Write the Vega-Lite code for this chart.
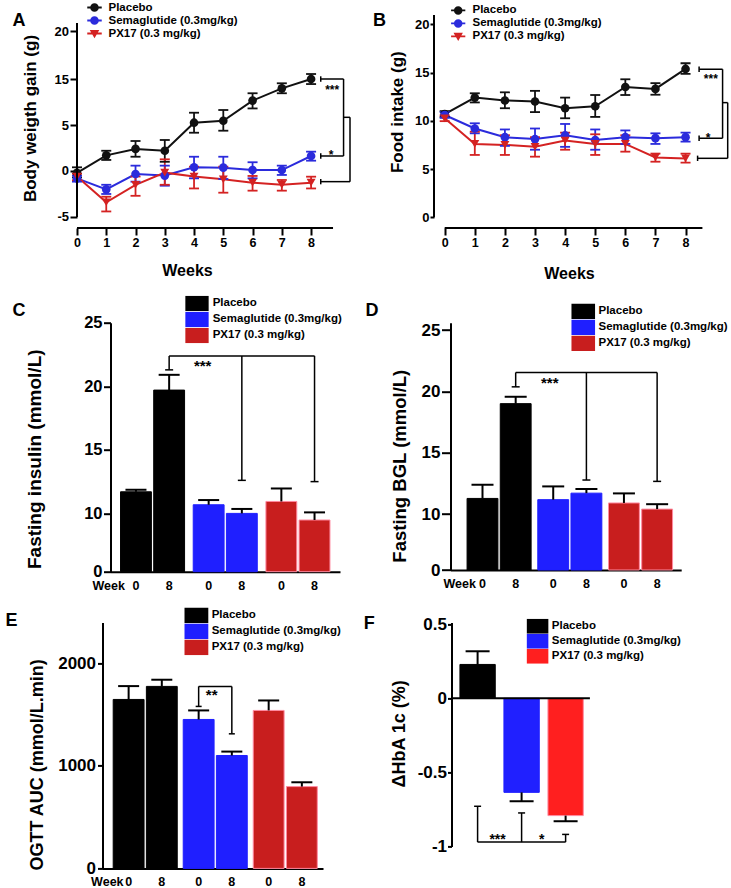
{
  "$schema": "https://vega.github.io/schema/vega-lite/v6.json",
  "background": "white",
  "padding": {"left": 5, "top": 0, "right": 0, "bottom": 0},
  "datasets": {
    "bw": [
      {"group": "Placebo", "week": 0, "mean": -0.2, "lo": -0.7, "hi": 0.4},
      {"group": "Placebo", "week": 1, "mean": 1.7, "lo": 1.2, "hi": 2.2},
      {"group": "Placebo", "week": 2, "mean": 2.4, "lo": 1.55, "hi": 3.26},
      {"group": "Placebo", "week": 3, "mean": 2.2, "lo": 1.0, "hi": 3.37},
      {"group": "Placebo", "week": 4, "mean": 5.5, "lo": 4.16, "hi": 7.67},
      {"group": "Placebo", "week": 5, "mean": 5.93, "lo": 4.38, "hi": 8.26},
      {"group": "Placebo", "week": 6, "mean": 10.3, "lo": 8.6, "hi": 11.9},
      {"group": "Placebo", "week": 7, "mean": 12.97, "lo": 11.9, "hi": 14.07},
      {"group": "Placebo", "week": 8, "mean": 15.0, "lo": 13.9, "hi": 15.52},
      {"group": "Semaglutide (0.3mg/kg)", "week": 0, "mean": -0.8, "lo": -1.16, "hi": -0.5},
      {"group": "Semaglutide (0.3mg/kg)", "week": 1, "mean": -2.0, "lo": -2.5, "hi": -1.5},
      {"group": "Semaglutide (0.3mg/kg)", "week": 2, "mean": -0.33, "lo": -1.16, "hi": 0.58},
      {"group": "Semaglutide (0.3mg/kg)", "week": 3, "mean": -0.5, "lo": -1.6, "hi": 0.58},
      {"group": "Semaglutide (0.3mg/kg)", "week": 4, "mean": 0.4, "lo": -0.8, "hi": 1.55},
      {"group": "Semaglutide (0.3mg/kg)", "week": 5, "mean": 0.36, "lo": -0.87, "hi": 1.55},
      {"group": "Semaglutide (0.3mg/kg)", "week": 6, "mean": 0.1, "lo": -0.8, "hi": 0.95},
      {"group": "Semaglutide (0.3mg/kg)", "week": 7, "mean": 0.1, "lo": -0.43, "hi": 0.58},
      {"group": "Semaglutide (0.3mg/kg)", "week": 8, "mean": 1.63, "lo": 1.12, "hi": 2.1},
      {"group": "PX17 (0.3 mg/kg)", "week": 0, "mean": -0.6, "lo": -1.0, "hi": -0.3},
      {"group": "PX17 (0.3 mg/kg)", "week": 1, "mean": -3.4, "lo": -4.4, "hi": -2.8},
      {"group": "PX17 (0.3 mg/kg)", "week": 2, "mean": -1.5, "lo": -2.7, "hi": -0.6},
      {"group": "PX17 (0.3 mg/kg)", "week": 3, "mean": -0.18, "lo": -1.5, "hi": 1.27},
      {"group": "PX17 (0.3 mg/kg)", "week": 4, "mean": -0.6, "lo": -1.9, "hi": 0.47},
      {"group": "PX17 (0.3 mg/kg)", "week": 5, "mean": -0.9, "lo": -2.36, "hi": 0.47},
      {"group": "PX17 (0.3 mg/kg)", "week": 6, "mean": -1.27, "lo": -2.14, "hi": -0.54},
      {"group": "PX17 (0.3 mg/kg)", "week": 7, "mean": -1.5, "lo": -2.14, "hi": -0.98},
      {"group": "PX17 (0.3 mg/kg)", "week": 8, "mean": -1.27, "lo": -1.9, "hi": -0.62}
    ],
    "food": [
      {"group": "Placebo", "week": 0, "mean": 10.7, "lo": 10.4, "hi": 11.0},
      {"group": "Placebo", "week": 1, "mean": 12.4, "lo": 11.9, "hi": 12.85},
      {"group": "Placebo", "week": 2, "mean": 12.1, "lo": 11.3, "hi": 12.95},
      {"group": "Placebo", "week": 3, "mean": 12.0, "lo": 10.9, "hi": 13.1},
      {"group": "Placebo", "week": 4, "mean": 11.3, "lo": 10.26, "hi": 12.4},
      {"group": "Placebo", "week": 5, "mean": 11.5, "lo": 10.4, "hi": 12.67},
      {"group": "Placebo", "week": 6, "mean": 13.5, "lo": 12.67, "hi": 14.3},
      {"group": "Placebo", "week": 7, "mean": 13.3, "lo": 12.7, "hi": 13.9},
      {"group": "Placebo", "week": 8, "mean": 15.37, "lo": 14.85, "hi": 15.96},
      {"group": "Semaglutide (0.3mg/kg)", "week": 0, "mean": 10.6, "lo": 10.3, "hi": 10.9},
      {"group": "Semaglutide (0.3mg/kg)", "week": 1, "mean": 9.2, "lo": 8.7, "hi": 9.74},
      {"group": "Semaglutide (0.3mg/kg)", "week": 2, "mean": 8.3, "lo": 7.4, "hi": 9.1},
      {"group": "Semaglutide (0.3mg/kg)", "week": 3, "mean": 8.1, "lo": 7.0, "hi": 9.2},
      {"group": "Semaglutide (0.3mg/kg)", "week": 4, "mean": 8.5, "lo": 7.3, "hi": 9.67},
      {"group": "Semaglutide (0.3mg/kg)", "week": 5, "mean": 8.0, "lo": 7.0, "hi": 9.1},
      {"group": "Semaglutide (0.3mg/kg)", "week": 6, "mean": 8.3, "lo": 7.6, "hi": 9.0},
      {"group": "Semaglutide (0.3mg/kg)", "week": 7, "mean": 8.2, "lo": 7.6, "hi": 8.7},
      {"group": "Semaglutide (0.3mg/kg)", "week": 8, "mean": 8.3, "lo": 7.83, "hi": 8.77},
      {"group": "PX17 (0.3 mg/kg)", "week": 0, "mean": 10.26, "lo": 9.96, "hi": 10.56},
      {"group": "PX17 (0.3 mg/kg)", "week": 1, "mean": 7.6, "lo": 6.46, "hi": 8.87},
      {"group": "PX17 (0.3 mg/kg)", "week": 2, "mean": 7.5, "lo": 6.46, "hi": 8.5},
      {"group": "PX17 (0.3 mg/kg)", "week": 3, "mean": 7.3, "lo": 6.28, "hi": 8.3},
      {"group": "PX17 (0.3 mg/kg)", "week": 4, "mean": 7.95, "lo": 7.0, "hi": 8.77},
      {"group": "PX17 (0.3 mg/kg)", "week": 5, "mean": 7.6, "lo": 6.46, "hi": 8.6},
      {"group": "PX17 (0.3 mg/kg)", "week": 6, "mean": 7.6, "lo": 6.8, "hi": 8.5},
      {"group": "PX17 (0.3 mg/kg)", "week": 7, "mean": 6.2, "lo": 5.76, "hi": 6.6},
      {"group": "PX17 (0.3 mg/kg)", "week": 8, "mean": 6.1, "lo": 5.66, "hi": 6.6}
    ],
    "insulin": [
      {"group": "Placebo", "week": "0", "value": 11.7, "err": 11.86},
      {"group": "Placebo", "week": "8", "value": 19.7, "err": 20.9},
      {"group": "Semaglutide (0.3mg/kg)", "week": "0", "value": 10.68, "err": 11.05},
      {"group": "Semaglutide (0.3mg/kg)", "week": "8", "value": 10.0, "err": 10.35},
      {"group": "PX17 (0.3 mg/kg)", "week": "0", "value": 10.94, "err": 11.96},
      {"group": "PX17 (0.3 mg/kg)", "week": "8", "value": 8.87, "err": 10.08}
    ],
    "bgl": [
      {"group": "Placebo", "week": "0", "value": 11.27, "err": 12.39},
      {"group": "Placebo", "week": "8", "value": 19.0, "err": 19.56},
      {"group": "Semaglutide (0.3mg/kg)", "week": "0", "value": 11.17, "err": 12.25},
      {"group": "Semaglutide (0.3mg/kg)", "week": "8", "value": 11.7, "err": 12.04},
      {"group": "PX17 (0.3 mg/kg)", "week": "0", "value": 10.9, "err": 11.68},
      {"group": "PX17 (0.3 mg/kg)", "week": "8", "value": 10.4, "err": 10.8}
    ],
    "ogtt": [
      {"group": "Placebo", "week": "0", "value": 1646, "err": 1776},
      {"group": "Placebo", "week": "8", "value": 1773, "err": 1838},
      {"group": "Semaglutide (0.3mg/kg)", "week": "0", "value": 1451, "err": 1539},
      {"group": "Semaglutide (0.3mg/kg)", "week": "8", "value": 1100, "err": 1138},
      {"group": "PX17 (0.3 mg/kg)", "week": "0", "value": 1539, "err": 1636},
      {"group": "PX17 (0.3 mg/kg)", "week": "8", "value": 797, "err": 839}
    ],
    "hba1c": [
      {"group": "Placebo", "value": 0.229, "err": 0.318},
      {"group": "Semaglutide (0.3mg/kg)", "value": -0.635, "err": -0.695},
      {"group": "PX17 (0.3 mg/kg)", "value": -0.792, "err": -0.83}
    ]
  },
  "spacing": 13.7,
  "resolve": {"scale": {"color": "independent", "fill": "independent", "stroke": "independent", "shape": "independent"}, "legend": {"color": "independent", "fill": "independent"}},
  "vconcat": [
    {
      "spacing": 21,
      "resolve": {"scale": {"color": "independent", "fill": "independent", "stroke": "independent", "shape": "independent"}, "legend": {"color": "independent", "fill": "independent"}},
      "hconcat": [
        {
          "width": 273, "height": 213,
          "data": {"name": "bw"},
          "layer": [
            {"mark": {"type": "line", "strokeWidth": 2},
             "encoding": {
               "x": {"field": "week", "type": "quantitative", "scale": {"domain": [0, 9.33], "nice": false, "zero": false},
                     "axis": {"values": [0, 1, 2, 3, 4, 5, 6, 7, 8], "domain": false, "tickSize": 7, "labelFontSize": 12.5, "labelPadding": 1, "title": "Weeks", "titleFontSize": 16, "titleX": 110, "titleY": 42, "titleAlign": "center", "titleBaseline": "middle", "titleAngle": 0}},
               "y": {"field": "mean", "type": "quantitative", "scale": {"domain": [-6.2, 5, 15, 21.67], "range": [213, 110, 64, 0], "nice": false, "zero": false},
                     "axis": {"values": [-5, 0, 5, 15, 20], "domain": false, "tickSize": 7, "labelFontSize": 13, "labelPadding": 1.5, "labelExpr": "datum.value + ''", "title": "Body weigth gain (g)", "titleFontSize": 17, "titleX": -46.5, "titleY": 103, "titleAngle": 270, "titleAlign": "center", "titleBaseline": "middle"}},
               "color": {"field": "group", "type": "nominal", "scale": {"domain": ["Placebo", "Semaglutide (0.3mg/kg)", "PX17 (0.3 mg/kg)"], "range": ["#111111", "#2b2bdc", "#d42222"]},
                         "legend": {"title": null, "orient": "none", "legendX": 10, "legendY": -15, "direction": "vertical", "symbolSize": 210, "rowPadding": 0, "labelOffset": 6.5, "labelFontSize": 11.5, "labelLimit": 400, "padding": 0,
                                    "encode": {"symbols": {"update": {
                                      "shape": {"signal": "datum.value === 'PX17 (0.3 mg/kg)' ? 'M-1,-0.13H1V0.13H-1Z M-0.66,-0.5H0.66L0,0.64Z' : 'M-1,-0.13H1V0.13H-1Z M0.6,0A0.6,0.6 0 1 1 -0.6,0A0.6,0.6 0 1 1 0.6,0Z'"},
                                      "fill": {"signal": "datum.value === 'Placebo' ? '#111111' : datum.value === 'PX17 (0.3 mg/kg)' ? '#d42222' : '#2b2bdc'"},
                                      "strokeWidth": {"value": 0},
                                      "size": {"value": 210}}}}}}
             }},
            {"mark": {"type": "rule", "strokeWidth": 1.8},
             "encoding": {"x": {"field": "week", "type": "quantitative", "axis": null}, "y": {"field": "lo", "type": "quantitative", "axis": null}, "y2": {"field": "hi"}, "color": {"field": "group", "type": "nominal", "legend": null}}},
            {"mark": {"type": "tick", "orient": "horizontal", "size": 10, "thickness": 1.8, "opacity": 1},
             "encoding": {"x": {"field": "week", "type": "quantitative", "axis": null}, "y": {"field": "lo", "type": "quantitative", "axis": null}, "color": {"field": "group", "type": "nominal", "legend": null}}},
            {"mark": {"type": "tick", "orient": "horizontal", "size": 10, "thickness": 1.8, "opacity": 1},
             "encoding": {"x": {"field": "week", "type": "quantitative", "axis": null}, "y": {"field": "hi", "type": "quantitative", "axis": null}, "color": {"field": "group", "type": "nominal", "legend": null}}},
            {"transform": [{"filter": "datum.group !== 'PX17 (0.3 mg/kg)'"}],
             "mark": {"type": "point", "filled": true, "shape": "circle", "size": 75, "opacity": 1},
             "encoding": {"x": {"field": "week", "type": "quantitative", "axis": null}, "y": {"field": "mean", "type": "quantitative", "axis": null}, "color": {"field": "group", "type": "nominal", "legend": null}}},
            {"transform": [{"filter": "datum.group === 'PX17 (0.3 mg/kg)'"}],
             "mark": {"type": "point", "filled": true, "shape": "triangle-down", "size": 80, "opacity": 1},
             "encoding": {"x": {"field": "week", "type": "quantitative", "axis": null}, "y": {"field": "mean", "type": "quantitative", "axis": null}, "color": {"field": "group", "type": "nominal", "legend": null}}},
            {"data": {"values": [
               {"x1": 8.33, "x2": 9.11, "y1": 15, "y2": 15},
               {"x1": 9.11, "x2": 9.11, "y1": 15, "y2": 1.63},
               {"x1": 8.33, "x2": 9.11, "y1": 1.63, "y2": 1.63},
               {"x1": 9.11, "x2": 9.33, "y1": 6.67, "y2": 6.67},
               {"x1": 9.33, "x2": 9.33, "y1": 6.67, "y2": -1.16},
               {"x1": 8.33, "x2": 9.33, "y1": -1.16, "y2": -1.16},
               {"x1": 8.33, "x2": 8.33, "y1": 15.28, "y2": 14.4},
               {"x1": 8.33, "x2": 8.33, "y1": 1.93, "y2": 1.33},
               {"x1": 8.33, "x2": 8.33, "y1": -0.87, "y2": -1.45}
             ]},
             "mark": {"type": "rule", "strokeWidth": 1.5, "color": "#000000"},
             "encoding": {"x": {"field": "x1", "type": "quantitative", "axis": null}, "x2": {"field": "x2"}, "y": {"field": "y1", "type": "quantitative", "axis": null}, "y2": {"field": "y2"}}},
            {"data": {"values": [{"label": "***", "x": 8.72, "y": 11.8}, {"label": "*", "x": 8.68, "y": 1.26}]},
             "mark": {"type": "text", "fontSize": 12, "baseline": "alphabetic", "align": "center"},
             "encoding": {"x": {"field": "x", "type": "quantitative", "axis": null}, "y": {"field": "y", "type": "quantitative", "axis": null}, "text": {"field": "label"}}},
            {"data": {"values": [{}]},
             "mark": {"type": "rule", "strokeWidth": 2, "color": "#000000"},
             "encoding": {"x": {"datum": 0, "type": "quantitative", "axis": null},
                          "y": {"datum": -5, "type": "quantitative", "axis": {"orient": "right", "title": "A", "domain": false, "ticks": false, "labels": false, "grid": false, "titleX": -338, "titleY": 10, "titleAngle": 0, "titleAlign": "left", "titleBaseline": "alphabetic", "titleFontSize": 18, "minExtent": 0}},
                          "y2": {"datum": 20.83}}},
            {"data": {"values": [{}]},
             "mark": {"type": "rule", "strokeWidth": 2, "color": "#000000"},
             "encoding": {"x": {"datum": 0, "type": "quantitative", "axis": null}, "x2": {"datum": 8.75}, "y": {"datum": -6.2, "type": "quantitative", "axis": null}}}
          ],
          "resolve": {"axis": {"x": "independent", "y": "independent"}}
        },
        {
          "width": 293.7, "height": 213,
          "data": {"name": "food"},
          "layer": [
            {"mark": {"type": "line", "strokeWidth": 2},
             "encoding": {
               "x": {"field": "week", "type": "quantitative", "scale": {"domain": [-0.355, 9.4], "nice": false, "zero": false},
                     "axis": {"values": [0, 1, 2, 3, 4, 5, 6, 7, 8], "domain": false, "tickSize": 7, "labelFontSize": 12.5, "labelPadding": 1, "title": "Weeks", "titleFontSize": 16, "titleX": 135, "titleY": 45.3, "titleAlign": "center", "titleBaseline": "middle", "titleAngle": 0}},
               "y": {"field": "mean", "type": "quantitative", "scale": {"domain": [-1.11, 20.96], "nice": false, "zero": false},
                     "axis": {"values": [0, 5, 10, 15, 20], "domain": false, "tickSize": 4, "labelFontSize": 13, "labelPadding": 1, "title": "Food intake (g)", "titleFontSize": 17, "titleX": -36.3, "titleY": 96.7, "titleAngle": 270, "titleAlign": "center", "titleBaseline": "middle"}},
               "color": {"field": "group", "type": "nominal", "scale": {"domain": ["Placebo", "Semaglutide (0.3mg/kg)", "PX17 (0.3 mg/kg)"], "range": ["#111111", "#2b2bdc", "#d42222"]},
                         "legend": {"title": null, "orient": "none", "legendX": 16.7, "legendY": -12.1, "direction": "vertical", "symbolSize": 202, "rowPadding": 0, "labelOffset": 6.8, "labelFontSize": 11.5, "labelLimit": 400, "padding": 0,
                                    "encode": {"symbols": {"update": {
                                      "shape": {"signal": "datum.value === 'PX17 (0.3 mg/kg)' ? 'M-1,-0.13H1V0.13H-1Z M-0.66,-0.5H0.66L0,0.64Z' : 'M-1,-0.13H1V0.13H-1Z M0.6,0A0.6,0.6 0 1 1 -0.6,0A0.6,0.6 0 1 1 0.6,0Z'"},
                                      "fill": {"signal": "datum.value === 'Placebo' ? '#111111' : datum.value === 'PX17 (0.3 mg/kg)' ? '#d42222' : '#2b2bdc'"},
                                      "strokeWidth": {"value": 0},
                                      "size": {"value": 202}}}}}}
             }},
            {"mark": {"type": "rule", "strokeWidth": 1.8},
             "encoding": {"x": {"field": "week", "type": "quantitative", "axis": null}, "y": {"field": "lo", "type": "quantitative", "axis": null}, "y2": {"field": "hi"}, "color": {"field": "group", "type": "nominal", "legend": null}}},
            {"mark": {"type": "tick", "orient": "horizontal", "size": 10, "thickness": 1.8, "opacity": 1},
             "encoding": {"x": {"field": "week", "type": "quantitative", "axis": null}, "y": {"field": "lo", "type": "quantitative", "axis": null}, "color": {"field": "group", "type": "nominal", "legend": null}}},
            {"mark": {"type": "tick", "orient": "horizontal", "size": 10, "thickness": 1.8, "opacity": 1},
             "encoding": {"x": {"field": "week", "type": "quantitative", "axis": null}, "y": {"field": "hi", "type": "quantitative", "axis": null}, "color": {"field": "group", "type": "nominal", "legend": null}}},
            {"transform": [{"filter": "datum.group !== 'PX17 (0.3 mg/kg)'"}],
             "mark": {"type": "point", "filled": true, "shape": "circle", "size": 75, "opacity": 1},
             "encoding": {"x": {"field": "week", "type": "quantitative", "axis": null}, "y": {"field": "mean", "type": "quantitative", "axis": null}, "color": {"field": "group", "type": "nominal", "legend": null}}},
            {"transform": [{"filter": "datum.group === 'PX17 (0.3 mg/kg)'"}],
             "mark": {"type": "point", "filled": true, "shape": "triangle-down", "size": 80, "opacity": 1},
             "encoding": {"x": {"field": "week", "type": "quantitative", "axis": null}, "y": {"field": "mean", "type": "quantitative", "axis": null}, "color": {"field": "group", "type": "nominal", "legend": null}}},
            {"data": {"values": [
               {"x1": 8.45, "x2": 9.23, "y1": 15.34, "y2": 15.34},
               {"x1": 9.23, "x2": 9.23, "y1": 15.34, "y2": 8.19},
               {"x1": 8.45, "x2": 9.23, "y1": 8.19, "y2": 8.19},
               {"x1": 9.23, "x2": 9.4, "y1": 11.88, "y2": 11.88},
               {"x1": 9.4, "x2": 9.4, "y1": 11.88, "y2": 6.11},
               {"x1": 8.4, "x2": 9.4, "y1": 6.11, "y2": 6.11},
               {"x1": 8.45, "x2": 8.45, "y1": 15.62, "y2": 15.06},
               {"x1": 8.45, "x2": 8.45, "y1": 8.47, "y2": 7.91},
               {"x1": 8.4, "x2": 8.4, "y1": 6.39, "y2": 5.83}
             ]},
             "mark": {"type": "rule", "strokeWidth": 1.5, "color": "#000000"},
             "encoding": {"x": {"field": "x1", "type": "quantitative", "axis": null}, "x2": {"field": "x2"}, "y": {"field": "y1", "type": "quantitative", "axis": null}, "y2": {"field": "y2"}}},
            {"data": {"values": [{"label": "***", "x": 8.84, "y": 13.95}, {"label": "*", "x": 8.75, "y": 7.83}]},
             "mark": {"type": "text", "fontSize": 12, "baseline": "alphabetic", "align": "center"},
             "encoding": {"x": {"field": "x", "type": "quantitative", "axis": null}, "y": {"field": "y", "type": "quantitative", "axis": null}, "text": {"field": "label"}}},
            {"data": {"values": [{}]},
             "mark": {"type": "rule", "strokeWidth": 2, "color": "#000000"},
             "encoding": {"x": {"datum": -0.355, "type": "quantitative", "axis": null},
                          "y": {"datum": 0, "type": "quantitative", "axis": {"orient": "right", "title": "B", "domain": false, "ticks": false, "labels": false, "grid": false, "titleX": -355.3, "titleY": 10, "titleAngle": 0, "titleAlign": "left", "titleBaseline": "alphabetic", "titleFontSize": 18, "minExtent": 0}},
                          "y2": {"datum": 20.96}}},
            {"data": {"values": [{}]},
             "mark": {"type": "rule", "strokeWidth": 2, "color": "#000000"},
             "encoding": {"x": {"datum": 0, "type": "quantitative", "axis": null}, "x2": {"datum": 8.56}, "y": {"datum": -1.11, "type": "quantitative", "axis": null}}}
          ],
          "resolve": {"axis": {"x": "independent", "y": "independent"}}
        }
      ]
    },
    {
      "spacing": 22.5,
      "resolve": {"scale": {"color": "independent", "fill": "independent", "stroke": "independent", "shape": "independent"}, "legend": {"color": "independent", "fill": "independent"}},
      "hconcat": [
        {
          "width": 229.5, "height": 249,
          "data": {"name": "insulin"},
          "layer": [
            {"mark": {"type": "bar", "strokeWidth": 1},
             "encoding": {
               "x": {"field": "group", "type": "nominal", "scale": {"domain": ["Placebo", "Semaglutide (0.3mg/kg)", "PX17 (0.3 mg/kg)"], "range": [33.5, 263], "paddingInner": 0.119, "paddingOuter": 0.138},
                     "axis": {"labels": false, "ticks": false, "domain": true, "title": null}},
               "xOffset": {"field": "week", "type": "nominal", "scale": {"domain": ["0", "8"], "paddingInner": 0.07, "paddingOuter": 0}},
               "y": {"field": "value", "type": "quantitative", "scale": {"domain": [0, 10, 25], "range": [249, 190.7, 0], "nice": false, "zero": false},
                     "axis": {"values": [0, 10, 15, 20, 25], "offset": -33.5, "domain": true, "tickSize": 7, "labelFontSize": 16.5, "labelPadding": 1.5, "title": "Fasting insulin (mmol/L)", "titleFontSize": 19, "titleX": -76.5, "titleY": 136, "titleAngle": 270, "titleAlign": "center", "titleBaseline": "middle"}},
               "fill": {"field": "group", "type": "nominal", "scale": {"domain": ["Placebo", "Semaglutide (0.3mg/kg)", "PX17 (0.3 mg/kg)"], "range": ["#000000", "#1f1fff", "#c81e1e"]},
                        "legend": {"title": null, "orient": "none", "legendX": 108, "legendY": -27, "direction": "vertical", "symbolType": "M-1,-0.665H1V0.665H-1Z", "symbolSize": 543, "clipHeight": 15.55, "rowPadding": 0, "labelOffset": 3.7, "labelFontSize": 11.5, "labelLimit": 400, "padding": 0,
                                   "encode": {"symbols": {"update": {"fill": {"signal": "datum.value === 'Placebo' ? '#000000' : datum.value === 'PX17 (0.3 mg/kg)' ? '#ff2222' : '#2424ff'"}, "strokeWidth": {"value": 0}}}}}},
               "stroke": {"field": "group", "type": "nominal", "scale": {"domain": ["Placebo", "Semaglutide (0.3mg/kg)", "PX17 (0.3 mg/kg)"], "range": ["#000000", "#1f1fff", "#ff8aa0"]}, "legend": null}
             }},
            {"mark": {"type": "rule", "strokeWidth": 2, "color": "#000000"},
             "encoding": {"x": {"field": "group", "type": "nominal", "axis": null}, "xOffset": {"field": "week", "type": "nominal"}, "y": {"field": "value", "type": "quantitative", "axis": null}, "y2": {"field": "err"}}},
            {"mark": {"type": "tick", "orient": "horizontal", "size": 21, "thickness": 2, "color": "#000000", "opacity": 1},
             "encoding": {"x": {"field": "group", "type": "nominal", "axis": null}, "xOffset": {"field": "week", "type": "nominal"},
                          "y": {"field": "err", "type": "quantitative", "axis": {"orient": "right", "title": "C", "domain": false, "ticks": false, "labels": false, "grid": false, "titleX": -294.5, "titleY": -7, "titleAngle": 0, "titleAlign": "left", "titleBaseline": "alphabetic", "titleFontSize": 18, "minExtent": 0}}}},
            {"data": {"values": [
               {"group": "Placebo", "week": "8", "y1": 21.29, "y2": 22.39},
               {"group": "Semaglutide (0.3mg/kg)", "week": "8", "y1": 12.6, "y2": 22.39},
               {"group": "PX17 (0.3 mg/kg)", "week": "8", "y1": 12.5, "y2": 22.39}
             ]},
             "layer": [
               {"mark": {"type": "rule", "strokeWidth": 1.5, "color": "#000000"},
                "encoding": {"x": {"field": "group", "type": "nominal", "axis": null}, "xOffset": {"field": "week", "type": "nominal"}, "y": {"field": "y1", "type": "quantitative", "axis": null}, "y2": {"field": "y2"}}},
               {"mark": {"type": "tick", "orient": "horizontal", "size": 8, "thickness": 1.5, "color": "#000000", "opacity": 1},
                "encoding": {"x": {"field": "group", "type": "nominal", "axis": null}, "xOffset": {"field": "week", "type": "nominal"}, "y": {"field": "y1", "type": "quantitative", "axis": null}}}
             ]},
            {"data": {"values": [
               {"group": "Placebo", "week": "8", "y": 22.39},
               {"group": "PX17 (0.3 mg/kg)", "week": "8", "y": 22.39}
             ]},
             "mark": {"type": "line", "strokeWidth": 1.5, "color": "#000000"},
             "encoding": {"x": {"field": "group", "type": "nominal", "axis": null}, "xOffset": {"field": "week", "type": "nominal"}, "y": {"field": "y", "type": "quantitative", "axis": null}}},
            {"data": {"values": [{"group": "Semaglutide (0.3mg/kg)", "week": "0", "y": 21.18, "label": "***"}]},
             "mark": {"type": "text", "fontSize": 15, "baseline": "alphabetic", "align": "center", "dx": -6},
             "encoding": {"x": {"field": "group", "type": "nominal", "axis": null}, "xOffset": {"field": "week", "type": "nominal"}, "y": {"field": "y", "type": "quantitative", "axis": null}, "text": {"field": "label"}}},
            {"mark": {"type": "text", "fontSize": 12.5, "baseline": "middle", "align": "center"},
             "encoding": {"x": {"field": "group", "type": "nominal", "axis": null}, "xOffset": {"field": "week", "type": "nominal"}, "y": {"datum": -2.5, "type": "quantitative", "axis": null}, "text": {"field": "week"}}},
            {"data": {"values": [{"group": "Placebo", "week": "0", "y": -2.5, "label": "Week"}]},
             "mark": {"type": "text", "fontSize": 12.5, "baseline": "middle", "align": "center", "dx": -27.2},
             "encoding": {"x": {"field": "group", "type": "nominal", "axis": null}, "xOffset": {"field": "week", "type": "nominal"}, "y": {"field": "y", "type": "quantitative", "axis": null}, "text": {"field": "label"}}}
          ],
          "resolve": {"axis": {"x": "independent", "y": "independent"}}
        },
        {
          "width": 230.7, "height": 247.3,
          "data": {"name": "bgl"},
          "layer": [
            {"mark": {"type": "bar", "strokeWidth": 1},
             "encoding": {
               "x": {"field": "group", "type": "nominal", "scale": {"domain": ["Placebo", "Semaglutide (0.3mg/kg)", "PX17 (0.3 mg/kg)"], "paddingInner": 0.122, "paddingOuter": 0.192, "align": 0.61},
                     "axis": {"labels": false, "ticks": false, "domain": true, "title": null}},
               "xOffset": {"field": "week", "type": "nominal", "scale": {"domain": ["0", "8"], "paddingInner": 0.04, "paddingOuter": 0}},
               "y": {"field": "value", "type": "quantitative", "scale": {"domain": [0, 10, 25.6], "range": [247.3, 191.3, 0], "nice": false, "zero": false},
                     "axis": {"values": [0, 10, 15, 20, 25], "domain": true, "tickSize": 9, "labelFontSize": 17, "labelPadding": 1.5, "title": "Fasting BGL (mmol/L)", "titleFontSize": 18.5, "titleX": -51.3, "titleY": 143, "titleAngle": 270, "titleAlign": "center", "titleBaseline": "middle"}},
               "fill": {"field": "group", "type": "nominal", "scale": {"domain": ["Placebo", "Semaglutide (0.3mg/kg)", "PX17 (0.3 mg/kg)"], "range": ["#000000", "#1f1fff", "#c81e1e"]},
                        "legend": {"title": null, "orient": "none", "legendX": 120.7, "legendY": -19.3, "direction": "vertical", "symbolType": "M-1,-0.654H1V0.654H-1Z", "symbolSize": 562, "clipHeight": 15.55, "rowPadding": 0, "labelOffset": 3.3, "labelFontSize": 11.5, "labelLimit": 400, "padding": 0,
                                   "encode": {"symbols": {"update": {"fill": {"signal": "datum.value === 'Placebo' ? '#000000' : datum.value === 'PX17 (0.3 mg/kg)' ? '#ff2222' : '#2424ff'"}, "strokeWidth": {"value": 0}}}}}},
               "stroke": {"field": "group", "type": "nominal", "scale": {"domain": ["Placebo", "Semaglutide (0.3mg/kg)", "PX17 (0.3 mg/kg)"], "range": ["#000000", "#1f1fff", "#ff8aa0"]}, "legend": null}
             }},
            {"mark": {"type": "rule", "strokeWidth": 2, "color": "#000000"},
             "encoding": {"x": {"field": "group", "type": "nominal", "axis": null}, "xOffset": {"field": "week", "type": "nominal"}, "y": {"field": "value", "type": "quantitative", "axis": null}, "y2": {"field": "err"}}},
            {"mark": {"type": "tick", "orient": "horizontal", "size": 22, "thickness": 2, "color": "#000000", "opacity": 1},
             "encoding": {"x": {"field": "group", "type": "nominal", "axis": null}, "xOffset": {"field": "week", "type": "nominal"},
                          "y": {"field": "err", "type": "quantitative", "axis": {"orient": "right", "title": "D", "domain": false, "ticks": false, "labels": false, "grid": false, "titleX": -316.3, "titleY": -7, "titleAngle": 0, "titleAlign": "left", "titleBaseline": "alphabetic", "titleFontSize": 18, "minExtent": 0}}}},
            {"data": {"values": [
               {"group": "Placebo", "week": "8", "y1": 20.37, "y2": 21.54},
               {"group": "Semaglutide (0.3mg/kg)", "week": "8", "y1": 12.77, "y2": 21.54},
               {"group": "PX17 (0.3 mg/kg)", "week": "8", "y1": 12.66, "y2": 21.54}
             ]},
             "layer": [
               {"mark": {"type": "rule", "strokeWidth": 1.5, "color": "#000000"},
                "encoding": {"x": {"field": "group", "type": "nominal", "axis": null}, "xOffset": {"field": "week", "type": "nominal"}, "y": {"field": "y1", "type": "quantitative", "axis": null}, "y2": {"field": "y2"}}},
               {"mark": {"type": "tick", "orient": "horizontal", "size": 8, "thickness": 1.5, "color": "#000000", "opacity": 1},
                "encoding": {"x": {"field": "group", "type": "nominal", "axis": null}, "xOffset": {"field": "week", "type": "nominal"}, "y": {"field": "y1", "type": "quantitative", "axis": null}}}
             ]},
            {"data": {"values": [
               {"group": "Placebo", "week": "8", "y": 21.54},
               {"group": "PX17 (0.3 mg/kg)", "week": "8", "y": 21.54}
             ]},
             "mark": {"type": "line", "strokeWidth": 1.5, "color": "#000000"},
             "encoding": {"x": {"field": "group", "type": "nominal", "axis": null}, "xOffset": {"field": "week", "type": "nominal"}, "y": {"field": "y", "type": "quantitative", "axis": null}}},
            {"data": {"values": [{"group": "Semaglutide (0.3mg/kg)", "week": "0", "y": 20.24, "label": "***"}]},
             "mark": {"type": "text", "fontSize": 15, "baseline": "alphabetic", "align": "center", "dx": -3.5},
             "encoding": {"x": {"field": "group", "type": "nominal", "axis": null}, "xOffset": {"field": "week", "type": "nominal"}, "y": {"field": "y", "type": "quantitative", "axis": null}, "text": {"field": "label"}}},
            {"mark": {"type": "text", "fontSize": 12.5, "baseline": "middle", "align": "center"},
             "encoding": {"x": {"field": "group", "type": "nominal", "axis": null}, "xOffset": {"field": "week", "type": "nominal"}, "y": {"datum": -2.5, "type": "quantitative", "axis": null}, "text": {"field": "week"}}},
            {"data": {"values": [{"group": "Placebo", "week": "0", "y": -2.5, "label": "Week"}]},
             "mark": {"type": "text", "fontSize": 12.5, "baseline": "middle", "align": "center", "dx": -22.8},
             "encoding": {"x": {"field": "group", "type": "nominal", "axis": null}, "xOffset": {"field": "week", "type": "nominal"}, "y": {"field": "y", "type": "quantitative", "axis": null}, "text": {"field": "label"}}}
          ],
          "resolve": {"axis": {"x": "independent", "y": "independent"}}
        }
      ]
    },
    {
      "spacing": 20.5,
      "resolve": {"scale": {"color": "independent", "fill": "independent", "stroke": "independent", "shape": "independent"}, "legend": {"color": "independent", "fill": "independent"}},
      "hconcat": [
        {
          "width": 220.5, "height": 246,
          "data": {"name": "ogtt"},
          "layer": [
            {"mark": {"type": "bar", "strokeWidth": 1},
             "encoding": {
               "x": {"field": "group", "type": "nominal", "scale": {"domain": ["Placebo", "Semaglutide (0.3mg/kg)", "PX17 (0.3 mg/kg)"], "range": [25.5, 246], "paddingInner": 0.119, "paddingOuter": 0.134, "align": 0.57},
                     "axis": {"labels": false, "ticks": false, "domain": true, "title": null}},
               "xOffset": {"field": "week", "type": "nominal", "scale": {"domain": ["0", "8"], "paddingInner": 0.05, "paddingOuter": 0}},
               "y": {"field": "value", "type": "quantitative", "scale": {"domain": [0, 2396.5], "nice": false, "zero": false},
                     "axis": {"values": [0, 1000, 2000], "offset": -25.5, "domain": true, "tickSize": 5, "labelFontSize": 17, "labelPadding": 2, "labelExpr": "datum.value + ''", "title": "OGTT AUC (mmol/L.min)", "titleFontSize": 18, "titleX": -65.5, "titleY": 142, "titleAngle": 270, "titleAlign": "center", "titleBaseline": "middle"}},
               "fill": {"field": "group", "type": "nominal", "scale": {"domain": ["Placebo", "Semaglutide (0.3mg/kg)", "PX17 (0.3 mg/kg)"], "range": ["#000000", "#1f1fff", "#c81e1e"]},
                        "legend": {"title": null, "orient": "none", "legendX": 107.3, "legendY": -15, "direction": "vertical", "symbolType": "M-1,-0.6625H1V0.6625H-1Z", "symbolSize": 576, "clipHeight": 15.9, "rowPadding": 0, "labelOffset": 3.4, "labelFontSize": 11.5, "labelLimit": 400, "padding": 0,
                                   "encode": {"symbols": {"update": {"fill": {"signal": "datum.value === 'Placebo' ? '#000000' : datum.value === 'PX17 (0.3 mg/kg)' ? '#ff2222' : '#2424ff'"}, "strokeWidth": {"value": 0}}}}}},
               "stroke": {"field": "group", "type": "nominal", "scale": {"domain": ["Placebo", "Semaglutide (0.3mg/kg)", "PX17 (0.3 mg/kg)"], "range": ["#000000", "#1f1fff", "#ff8aa0"]}, "legend": null}
             }},
            {"mark": {"type": "rule", "strokeWidth": 2, "color": "#000000"},
             "encoding": {"x": {"field": "group", "type": "nominal", "axis": null}, "xOffset": {"field": "week", "type": "nominal"}, "y": {"field": "value", "type": "quantitative", "axis": null}, "y2": {"field": "err"}}},
            {"mark": {"type": "tick", "orient": "horizontal", "size": 21, "thickness": 2, "color": "#000000", "opacity": 1},
             "encoding": {"x": {"field": "group", "type": "nominal", "axis": null}, "xOffset": {"field": "week", "type": "nominal"},
                          "y": {"field": "err", "type": "quantitative", "axis": {"orient": "right", "title": "E", "domain": false, "ticks": false, "labels": false, "grid": false, "titleX": -292.5, "titleY": 3, "titleAngle": 0, "titleAlign": "left", "titleBaseline": "alphabetic", "titleFontSize": 18, "minExtent": 0}}}},
            {"data": {"values": [
               {"group": "Semaglutide (0.3mg/kg)", "week": "0", "y1": 1578, "y2": 1773},
               {"group": "Semaglutide (0.3mg/kg)", "week": "8", "y1": 1311, "y2": 1773}
             ]},
             "layer": [
               {"mark": {"type": "rule", "strokeWidth": 1.5, "color": "#000000"},
                "encoding": {"x": {"field": "group", "type": "nominal", "axis": null}, "xOffset": {"field": "week", "type": "nominal"}, "y": {"field": "y1", "type": "quantitative", "axis": null}, "y2": {"field": "y2"}}},
               {"mark": {"type": "tick", "orient": "horizontal", "size": 6, "thickness": 1.5, "color": "#000000", "opacity": 1},
                "encoding": {"x": {"field": "group", "type": "nominal", "axis": null}, "xOffset": {"field": "week", "type": "nominal"}, "y": {"field": "y1", "type": "quantitative", "axis": null}}}
             ]},
            {"data": {"values": [
               {"group": "Semaglutide (0.3mg/kg)", "week": "0", "y": 1773},
               {"group": "Semaglutide (0.3mg/kg)", "week": "8", "y": 1773}
             ]},
             "mark": {"type": "line", "strokeWidth": 1.5, "color": "#000000"},
             "encoding": {"x": {"field": "group", "type": "nominal", "axis": null}, "xOffset": {"field": "week", "type": "nominal"}, "y": {"field": "y", "type": "quantitative", "axis": null}}},
            {"data": {"values": [{"group": "Semaglutide (0.3mg/kg)", "week": "0", "y": 1636, "label": "**"}]},
             "mark": {"type": "text", "fontSize": 15, "baseline": "alphabetic", "align": "center", "dx": 13},
             "encoding": {"x": {"field": "group", "type": "nominal", "axis": null}, "xOffset": {"field": "week", "type": "nominal"}, "y": {"field": "y", "type": "quantitative", "axis": null}, "text": {"field": "label"}}},
            {"mark": {"type": "text", "fontSize": 12.5, "baseline": "middle", "align": "center"},
             "encoding": {"x": {"field": "group", "type": "nominal", "axis": null}, "xOffset": {"field": "week", "type": "nominal"}, "y": {"datum": -133, "type": "quantitative", "axis": null}, "text": {"field": "week"}}},
            {"data": {"values": [{"group": "Placebo", "week": "0", "y": -133, "label": "Week"}]},
             "mark": {"type": "text", "fontSize": 12.5, "baseline": "middle", "align": "center", "dx": -21.3},
             "encoding": {"x": {"field": "group", "type": "nominal", "axis": null}, "xOffset": {"field": "week", "type": "nominal"}, "y": {"field": "y", "type": "quantitative", "axis": null}, "text": {"field": "label"}}}
          ],
          "resolve": {"axis": {"x": "independent", "y": "independent"}}
        },
        {
          "width": 138.4, "height": 224,
          "data": {"name": "hba1c"},
          "layer": [
            {"mark": {"type": "bar", "strokeWidth": 1},
             "encoding": {
               "x": {"field": "group", "type": "nominal", "scale": {"domain": ["Placebo", "Semaglutide (0.3mg/kg)", "PX17 (0.3 mg/kg)"], "paddingInner": 0.197, "paddingOuter": 0.171, "align": 0.56}, "axis": null},
               "y": {"field": "value", "type": "quantitative", "scale": {"domain": [-1, 0.513], "nice": false, "zero": false},
                     "axis": {"values": [-1, -0.5, 0, 0.5], "domain": true, "tickSize": 4, "labelFontSize": 17, "labelPadding": 1, "labelExpr": "datum.value + ''", "title": "ΔHbA 1c (%)", "titleFontSize": 18, "titleX": -51.6, "titleY": 111, "titleAngle": 270, "titleAlign": "center", "titleBaseline": "middle"}},
               "fill": {"field": "group", "type": "nominal", "scale": {"domain": ["Placebo", "Semaglutide (0.3mg/kg)", "PX17 (0.3 mg/kg)"], "range": ["#000000", "#2020ff", "#ff1f1f"]},
                        "legend": {"title": null, "orient": "none", "legendX": 75, "legendY": -3.7, "direction": "vertical", "symbolType": "M-1,-0.69H1V0.69H-1Z", "symbolSize": 471, "clipHeight": 15, "rowPadding": 0, "labelOffset": 3.3, "labelFontSize": 11.5, "labelLimit": 400, "padding": 0,
                                   "encode": {"symbols": {"update": {"fill": {"signal": "datum.value === 'Placebo' ? '#000000' : datum.value === 'PX17 (0.3 mg/kg)' ? '#ff2222' : '#2424ff'"}, "strokeWidth": {"value": 0}}}}}},
               "stroke": {"field": "group", "type": "nominal", "scale": {"domain": ["Placebo", "Semaglutide (0.3mg/kg)", "PX17 (0.3 mg/kg)"], "range": ["#000000", "#2020ff", "#ff8aa0"]}, "legend": null}
             }},
            {"data": {"values": [{}]},
             "mark": {"type": "rule", "strokeWidth": 2, "color": "#000000"},
             "encoding": {"y": {"datum": 0, "type": "quantitative", "axis": null}}},
            {"mark": {"type": "rule", "strokeWidth": 2, "color": "#000000"},
             "encoding": {"x": {"field": "group", "type": "nominal", "axis": null}, "y": {"field": "value", "type": "quantitative", "axis": null}, "y2": {"field": "err"}}},
            {"mark": {"type": "tick", "orient": "horizontal", "size": 24, "thickness": 2, "color": "#000000", "opacity": 1},
             "encoding": {"x": {"field": "group", "type": "nominal", "axis": null},
                          "y": {"field": "err", "type": "quantitative", "axis": {"orient": "right", "title": "F", "domain": false, "ticks": false, "labels": false, "grid": false, "titleX": -226.7, "titleY": 6.3, "titleAngle": 0, "titleAlign": "left", "titleBaseline": "alphabetic", "titleFontSize": 18, "minExtent": 0}}}},
            {"data": {"values": [
               {"group": "Placebo", "y1": -0.729, "y2": -0.971},
               {"group": "Semaglutide (0.3mg/kg)", "y1": -0.774, "y2": -0.971},
               {"group": "PX17 (0.3 mg/kg)", "y1": -0.919, "y2": -0.971}
             ]},
             "layer": [
               {"mark": {"type": "rule", "strokeWidth": 1.5, "color": "#000000"},
                "encoding": {"x": {"field": "group", "type": "nominal", "axis": null}, "y": {"field": "y1", "type": "quantitative", "axis": null}, "y2": {"field": "y2"}}},
               {"mark": {"type": "tick", "orient": "horizontal", "size": 7, "thickness": 1.5, "color": "#000000", "opacity": 1},
                "encoding": {"x": {"field": "group", "type": "nominal", "axis": null}, "y": {"field": "y1", "type": "quantitative", "axis": null}}}
             ]},
            {"data": {"values": [
               {"group": "Placebo", "y": -0.971},
               {"group": "PX17 (0.3 mg/kg)", "y": -0.971}
             ]},
             "mark": {"type": "line", "strokeWidth": 1.5, "color": "#000000"},
             "encoding": {"x": {"field": "group", "type": "nominal", "axis": null}, "y": {"field": "y", "type": "quantitative", "axis": null}}},
            {"data": {"values": [
               {"group": "Placebo", "y": -0.985, "label": "***"},
               {"group": "Semaglutide (0.3mg/kg)", "y": -0.985, "label": "*"}
             ]},
             "mark": {"type": "text", "fontSize": 14, "baseline": "alphabetic", "align": "center", "dx": 20},
             "encoding": {"x": {"field": "group", "type": "nominal", "axis": null}, "y": {"field": "y", "type": "quantitative", "axis": null}, "text": {"field": "label"}}}
          ],
          "resolve": {"axis": {"x": "independent", "y": "independent"}}
        }
      ]
    }
  ],
  "config": {
    "font": "Liberation Sans",
    "view": {"stroke": null},
    "axis": {"grid": false, "domainColor": "#000000", "domainWidth": 2, "tickColor": "#000000", "tickWidth": 2, "labelColor": "#000000", "titleColor": "#000000", "labelFont": "Liberation Sans", "titleFont": "Liberation Sans", "labelFontWeight": "bold", "titleFontWeight": "bold", "minExtent": 0, "labelFlush": false, "labelOverlap": false},
    "legend": {"labelFont": "Liberation Sans", "labelFontWeight": "bold", "labelColor": "#000000"},
    "text": {"font": "Liberation Sans", "fontWeight": "bold", "color": "#000000"}
  }
}
